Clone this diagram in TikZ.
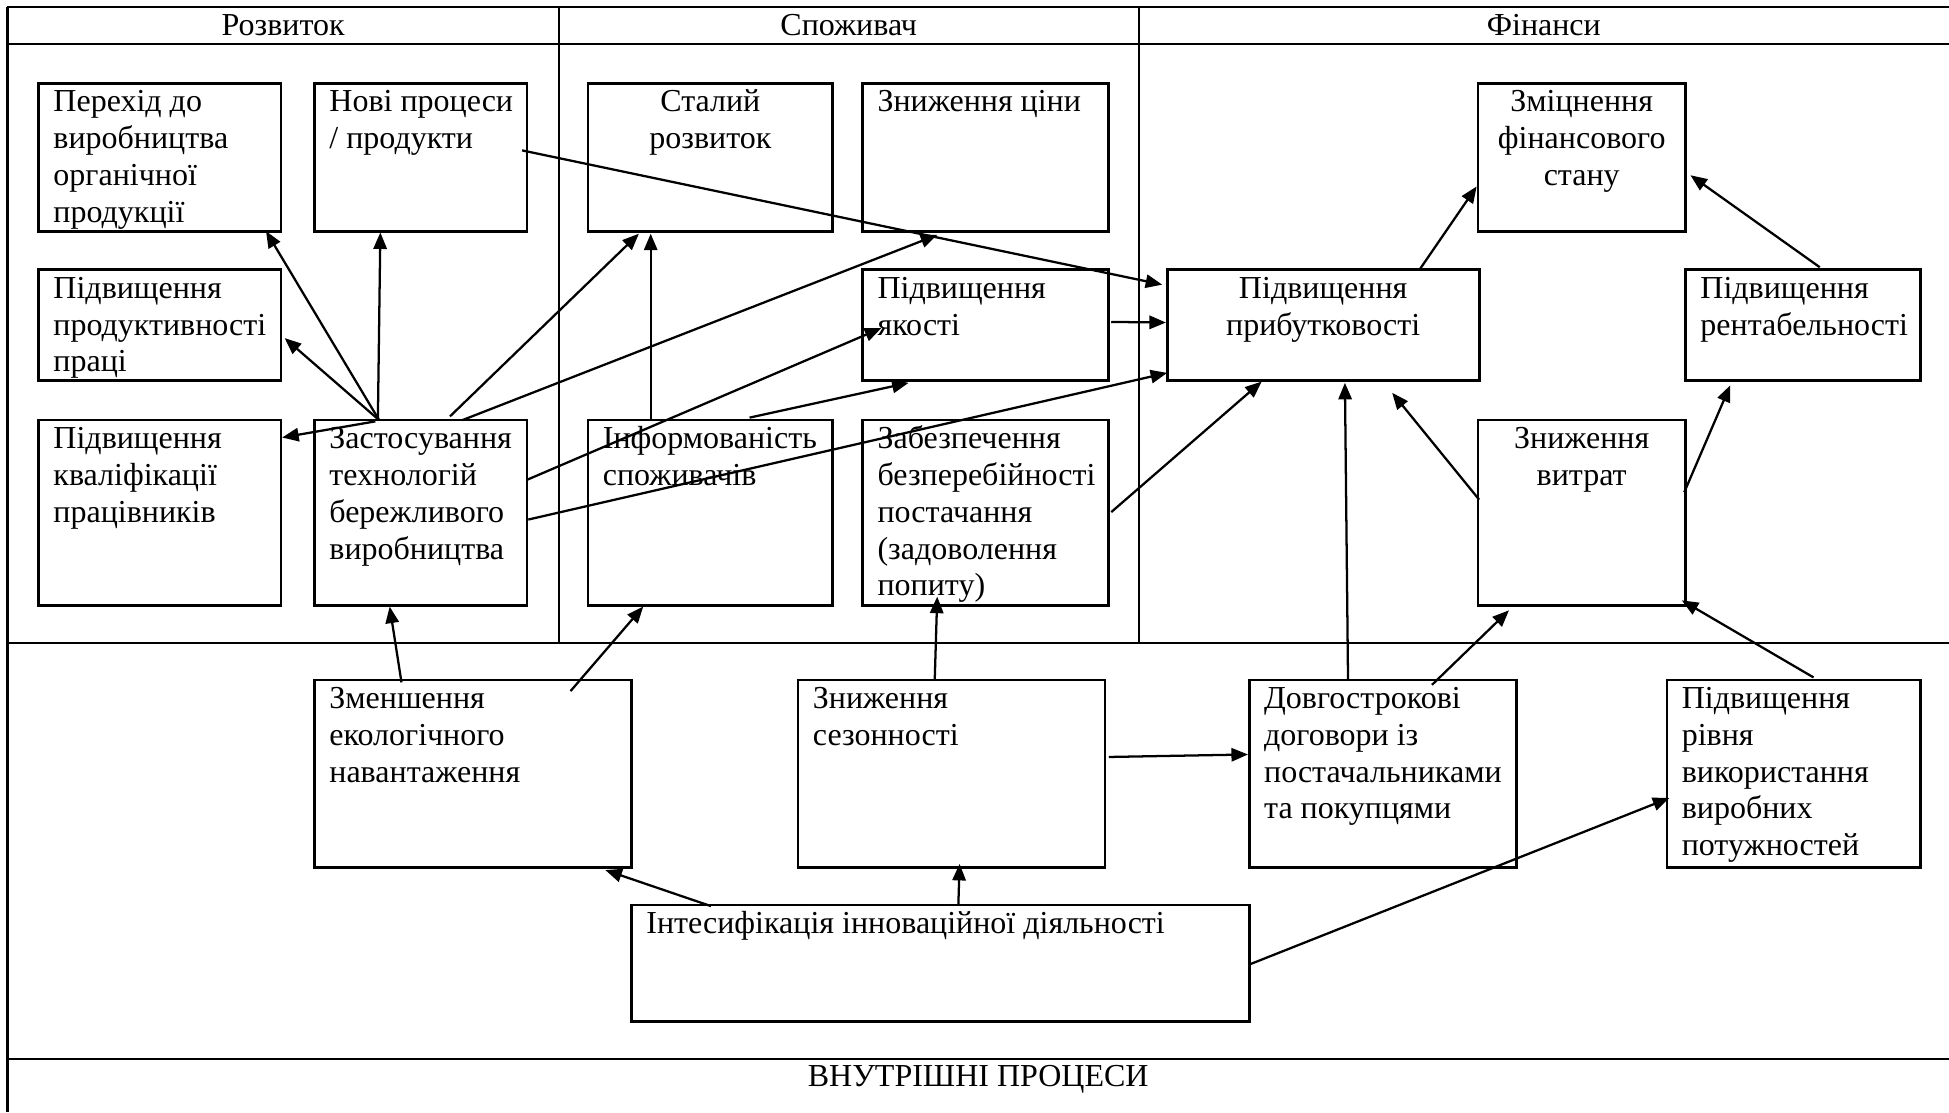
\documentclass[tikz,border=0pt]{standalone}
\usepackage{fontspec}
\setmainfont{Liberation Serif}
\usetikzlibrary{calc,arrows.meta}
\tikzset{
  x=0.466pt, y=-0.466pt,
  boxst/.style={draw, line width=1pt, inner sep=0pt, outer sep=0pt},
  txt/.style={inner sep=0pt, outer sep=0pt, font=\fontsize{12}{13.8}\selectfont},
  arr/.style={line width=0.85pt, -{Triangle[length=6.2pt,width=5pt]}},
  gridline/.style={line width=0.8pt},
}
\newcommand\mybox[5]{\node[boxst, anchor=north west, minimum width={((#4)-(#2))*0.466pt}, minimum height={((#5)-(#3))*0.466pt}] (#1) at (#2,#3) {};}
\newcommand\ltxt[2]{\node[txt, anchor=north west, align=left] (#1-t) at ($(#1.north west)+(12,2.3)$) {\strut #2};}
\newcommand\ctxt[2]{\node[txt, anchor=north, align=center] (#1-t) at ($(#1.north)+(0,2.3)$) {\strut #2};}
\newcommand\conn[4]{\draw[arr] ($(#1.north west)+(#2)$) -- ($(#3.north west)+(#4)$);}
\begin{document}
\begin{tikzpicture}
\useasboundingbox (0,0) rectangle (1568,895);
% table frame
\draw[gridline] (6,5.5) -- (1568,5.5);
\draw[gridline] (6,5.5) -- (6,895);
\draw[gridline] (6,35.7) -- (1568,35.7);
\draw[gridline] (449.6,5.5) -- (449.6,517);
\draw[gridline] (916,5.5) -- (916,517);
\draw[gridline] (6,517) -- (1568,517);
\draw[gridline] (6,852) -- (1568,852);
% headers
\node[txt, anchor=base] (hRoz) at (227.8,28.2) {Розвиток};
\node[txt, anchor=base] (hSpo) at (682.8,28.2) {Споживач};
\node[txt, anchor=base] (hFin) at (1242,28.2) {Фінанси};
\node[txt, anchor=base] (hVnu) at (787,874) {ВНУТРІШНІ ПРОЦЕСИ};
% boxes
\mybox{per}{31}{67}{226}{186}
\mybox{nov}{253}{67}{424}{186}
\mybox{stal}{473}{67}{670}{186}
\mybox{cin}{694}{67}{892}{186}
\mybox{zmi}{1189}{67}{1356}{186}
\mybox{prod}{31}{217}{226}{306}
\mybox{yak}{694}{217}{892}{306}
\mybox{prib}{939}{217}{1190}{306}
\mybox{rent}{1356}{217}{1545}{306}
\mybox{kval}{31}{338}{226}{487}
\mybox{zast}{253}{338}{424}{487}
\mybox{inf}{473}{338}{670}{487}
\mybox{zab}{694}{338}{892}{487}
\mybox{vyt}{1189}{338}{1356}{487}
\mybox{zmen}{253}{547}{508}{698}
\mybox{sez}{642}{547}{889}{698}
\mybox{dov}{1005}{547}{1220}{698}
\mybox{riv}{1341}{547}{1545}{698}
\mybox{int}{508}{728}{1005}{822}
% texts
\ltxt{per}{Перехід до\\виробництва\\органічної\\продукції}
\ltxt{nov}{Нові процеси\\/ продукти}
\ctxt{stal}{Сталий\\розвиток}
\ltxt{cin}{Зниження ціни}
\ctxt{zmi}{Зміцнення\\фінансового\\стану}
\ltxt{prod}{Підвищення\\продуктивності\\праці}
\ltxt{yak}{Підвищення\\якості}
\ctxt{prib}{Підвищення\\прибутковості}
\ltxt{rent}{Підвищення\\рентабельності}
\ltxt{kval}{Підвищення\\кваліфікації\\працівників}
\ltxt{zast}{Застосування\\технологій\\бережливого\\виробництва}
\ltxt{inf}{Інформованість\\споживачів}
\ltxt{zab}{Забезпечення\\безперебійності\\постачання\\(задоволення\\попиту)}
\ctxt{vyt}{Зниження\\витрат}
\ltxt{zmen}{Зменшення\\екологічного\\навантаження}
\ltxt{sez}{Зниження\\сезонності}
\ltxt{dov}{Довгострокові\\договори із\\постачальниками\\та покупцями}
\ltxt{riv}{Підвищення\\рівня\\використання\\виробних\\потужностей}
\ltxt{int}{Інтесифікація інноваційної діяльності}
% connectors
\conn{zast}{52,0}{per}{183,119}
\conn{zast}{51,0}{nov}{53,120}
\conn{zast}{52,0}{prod}{198,55}
\conn{zast}{49,1}{kval}{196,14}
\conn{zast}{109,-3}{stal}{41,121}
\conn{zast}{119,0}{cin}{60,122}
\conn{zast}{171,48}{yak}{15,47}
\conn{zast}{172,80}{prib}{0,83}
\conn{nov}{167,54}{prib}{-4,12}
\conn{inf}{50.5,-1}{stal}{50.5,121}
\conn{inf}{130,-2}{yak}{37,91}
\conn{yak}{200,42}{prib}{-1,42.5}
\conn{zab}{200,74}{prib}{76,90}
\conn{prib}{203,0}{zmi}{-1,83}
\conn{rent}{108,-2}{zmi}{171,74}
\conn{dov}{79.5,0}{prib}{143,91}
\conn{vyt}{1,64}{prib}{181,99}
\conn{vyt}{166,58}{rent}{36,93}
\conn{dov}{147,4}{vyt}{25,153}
\conn{riv}{118,-2}{vyt}{164,145}
\conn{zmen}{70,2}{zast}{60.5,150}
\conn{zmen}{206,9}{inf}{44.5,150}
\conn{sez}{110,0}{zab}{60,142}
\conn{int}{64,1}{zmen}{234,153}
\conn{int}{263,0}{sez}{130,148}
\conn{sez}{250,62}{dov}{-1,60}
\conn{int}{497,48}{riv}{2,95}
\end{tikzpicture}
\end{document}
